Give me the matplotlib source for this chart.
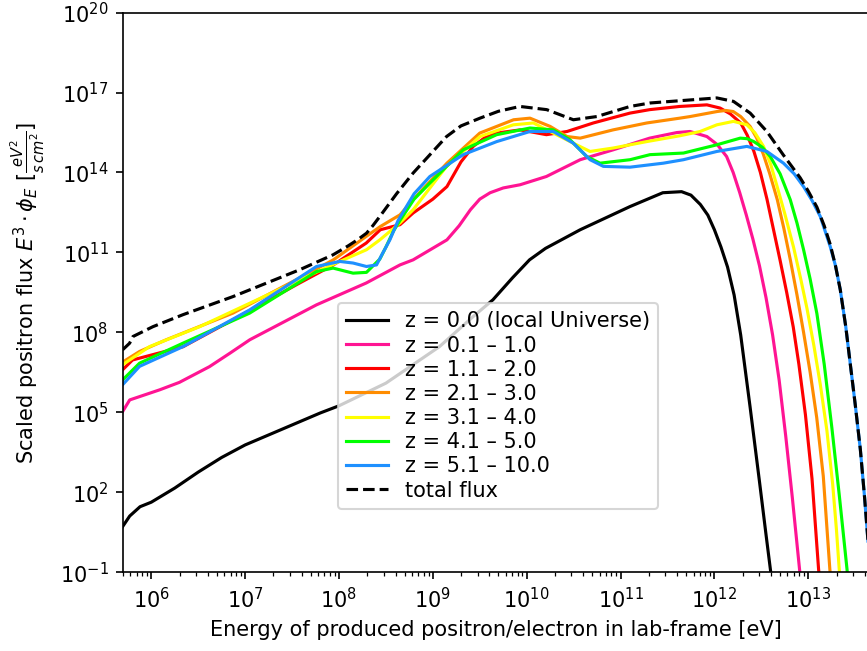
import numpy as np
import matplotlib
matplotlib.use("Agg")
import matplotlib.pyplot as plt
from matplotlib.ticker import NullLocator

# ---- data (log10 energy [eV], log10 scaled flux) ----
logE_z0 = [5.694, 5.77, 5.88, 6.0, 6.25, 6.5, 6.75, 7.0, 7.5, 7.8, 8.0, 8.5, 9.07, 9.43, 9.64,
           9.85, 10.03, 10.2, 10.57, 11.1, 11.45, 11.65, 11.75, 11.85, 11.93, 12.0, 12.07, 12.14,
           12.21, 12.28, 12.38, 12.48, 12.55, 12.60, 12.62]
logF_z0 = [0.70, 1.10, 1.45, 1.62, 2.15, 2.75, 3.30, 3.77, 4.52, 4.97, 5.24, 6.09, 7.46, 8.59, 9.22,
           10.05, 10.72, 11.15, 11.85, 12.72, 13.24, 13.28, 13.15, 12.8, 12.4, 11.85, 11.2, 10.45,
           9.4, 7.9, 5.2, 2.4, 0.4, -1.0, -1.6]

logE_z1 = [5.694, 5.77, 6.09, 6.30, 6.62, 6.84, 7.05, 7.76, 8.29, 8.65, 8.79, 9.15, 9.28, 9.40,
           9.50, 9.61, 9.75, 9.93, 10.21, 10.57, 10.92, 11.31, 11.6, 11.74, 11.92, 12.03, 12.13,
           12.20, 12.27, 12.34, 12.41, 12.48, 12.55, 12.62, 12.69, 12.76, 12.83, 12.91, 12.93]
logF_z1 = [5.02, 5.46, 5.84, 6.12, 6.71, 7.22, 7.72, 9.03, 9.85, 10.53, 10.72, 11.47, 12.0, 12.6,
           13.0, 13.24, 13.42, 13.54, 13.85, 14.48, 14.85, 15.29, 15.5, 15.54, 15.35, 15.05, 14.6,
           14.0, 13.24, 12.4, 11.5, 10.5, 9.3, 7.9, 6.2, 4.1, 1.8, -1.0, -1.7]

logE_z2 = [5.694, 5.80, 6.34, 6.87, 7.58, 7.94, 8.29, 8.44, 8.55, 8.65, 8.79, 9.0, 9.15, 9.3, 9.43,
           9.55, 9.68, 9.93, 10.21, 10.43, 10.71, 11.10, 11.31, 11.63, 11.92, 12.06, 12.17, 12.28,
           12.35, 12.42, 12.49, 12.56, 12.63, 12.70, 12.77, 12.84, 12.90, 12.97, 13.04, 13.11, 13.13]
logF_z2 = [6.59, 6.96, 7.46, 8.47, 9.85, 10.53, 11.35, 11.85, 11.95, 12.04, 12.48, 13.0, 13.47, 14.4,
           14.98, 15.3, 15.48, 15.6, 15.42, 15.54, 15.86, 16.23, 16.36, 16.48, 16.54, 16.42, 16.2,
           15.86, 15.4, 14.8, 14.0, 13.0, 11.85, 10.7, 9.5, 8.2, 6.8, 4.9, 2.5, -0.9, -1.6]

logE_z3 = [5.694, 5.875, 6.16, 6.87, 7.58, 7.94, 8.29, 8.44, 8.65, 8.79, 9.15, 9.50, 9.86, 10.035,
           10.25, 10.43, 10.57, 10.92, 11.28, 11.63, 11.74, 12.03, 12.12, 12.20, 12.28, 12.38, 12.45,
           12.52, 12.59, 12.67, 12.74, 12.81, 12.88, 12.95, 13.02, 13.09, 13.16, 13.23, 13.25]
logF_z3 = [6.88, 7.28, 7.72, 8.72, 10.04, 10.72, 11.6, 11.97, 12.41, 12.98, 14.35, 15.48, 15.98, 16.04,
           15.73, 15.35, 15.29, 15.6, 15.86, 16.04, 16.1, 16.29, 16.33, 16.29, 16.1, 15.73, 15.3,
           14.7, 13.95, 12.98, 11.9, 10.7, 9.4, 8.0, 6.5, 4.8, 2.6, -0.9, -1.6]

logE_z4 = [5.694, 5.98, 6.515, 7.048, 7.582, 8.009, 8.293, 8.435, 8.648, 8.79, 9.146, 9.502, 9.857,
           10.071, 10.283, 10.497, 10.675, 10.923, 11.279, 11.633, 11.848, 12.026, 12.203, 12.346,
           12.43, 12.523, 12.6, 12.666, 12.75, 12.843, 12.92, 12.986, 13.06, 13.13, 13.199, 13.26,
           13.30, 13.33, 13.35]
logF_z4 = [6.78, 7.46, 8.21, 9.09, 9.97, 10.66, 11.1, 11.47, 12.1, 12.6, 14.23, 15.35, 15.79, 15.86,
           15.48, 15.1, 14.79, 14.92, 15.16, 15.38, 15.54, 15.79, 15.92, 15.79,
           15.5, 14.98, 14.3, 13.5, 12.45, 11.2, 10.0, 8.9, 7.5, 6.0, 4.3, 2.3,
           0.6, -0.9, -1.6]

logE_z5 = [5.694, 5.875, 6.337, 7.048, 7.76, 7.937, 8.15, 8.293, 8.435, 8.50, 8.58, 8.65, 8.8,
           8.968, 9.323, 9.68, 10.035, 10.283, 10.461, 10.639, 10.781, 11.101, 11.314, 11.67, 12.026,
           12.275, 12.35, 12.42, 12.51, 12.595, 12.7, 12.808, 12.88, 12.95, 13.02, 13.092, 13.17,
           13.252, 13.33, 13.413, 13.43]
logF_z5 = [6.21, 6.84, 7.59, 8.72, 10.28, 10.41, 10.22, 10.25, 10.75, 11.2, 11.8, 12.2, 13.0,
           13.6, 14.85, 15.42, 15.67, 15.6, 15.23, 14.6, 14.35, 14.48, 14.67, 14.73, 15.04,
           15.29, 15.27, 15.16, 14.95, 14.6, 13.95, 12.98, 12.1, 11.1, 10.0, 8.7, 6.8,
           4.4, 1.9, -0.9, -1.6]

logE_z6 = [5.694, 5.875, 6.337, 7.048, 7.76, 8.009, 8.15, 8.293, 8.40, 8.47, 8.542, 8.63, 8.8,
           8.968, 9.323, 9.68, 10.035, 10.283, 10.497, 10.675, 10.817, 11.101, 11.456, 11.67, 12.026,
           12.346, 12.559, 12.736, 12.85, 12.95, 13.04, 13.128, 13.234, 13.29, 13.341, 13.40, 13.448,
           13.50, 13.555, 13.60, 13.64, 13.67]
logF_z6 = [6.03, 6.72, 7.46, 8.84, 10.47, 10.66, 10.6, 10.47, 10.53, 11.0, 11.47, 12.2, 13.2,
           13.85, 14.67, 15.16, 15.54, 15.54, 15.1, 14.48, 14.23, 14.2, 14.35, 14.48, 14.79,
           14.98, 14.79, 14.35, 13.95, 13.47, 12.95, 12.35, 11.22, 10.5, 9.6, 8.2, 6.8,
           5.3, 3.6, 1.8, 0.0, -1.2]

logE_tot = [5.694, 5.769, 5.804, 6.017, 6.337, 6.87, 7.582, 7.937, 8.1, 8.2, 8.293, 8.36, 8.435,
            8.613, 8.79, 9.146, 9.3, 9.502, 9.7, 9.928, 10.213, 10.497, 10.746, 11.101, 11.314,
            11.65, 12.026, 12.203, 12.381, 12.559, 12.736, 12.82, 12.914, 13.0, 13.092, 13.17,
            13.234, 13.29, 13.341, 13.40, 13.448, 13.50, 13.555, 13.60, 13.64, 13.67]
logF_tot = [7.34, 7.59, 7.84, 8.21, 8.66, 9.34, 10.35, 10.91, 11.25, 11.48, 11.72, 12.0, 12.35,
            13.2, 13.98, 15.35, 15.75, 16.04, 16.3, 16.48, 16.36, 15.98, 16.1, 16.48, 16.61,
            16.7, 16.8, 16.67, 16.23, 15.54, 14.65, 14.25, 13.8, 13.3, 12.7, 12.0,
            11.3, 10.5, 9.6, 8.2, 6.8, 5.3, 3.6, 1.8, 0.0, -1.2]

labels = ["z = 0.0 (local Universe)", "z = 0.1 \u2013 1.0", "z = 1.1 \u2013 2.0", "z = 2.1 \u2013 3.0",
          "z = 3.1 \u2013 4.0", "z = 4.1 \u2013 5.0", "z = 5.1 \u2013 10.0"]
colors = ["black", "#ff1493", "#ff0000", "#ff8c00", "#ffff00", "#00ff00", "#1e90ff"]

series = [(logE_z0, logF_z0), (logE_z1, logF_z1), (logE_z2, logF_z2), (logE_z3, logF_z3),
          (logE_z4, logF_z4), (logE_z5, logF_z5), (logE_z6, logF_z6)]

dpi = 150
fig = plt.figure(figsize=(867.3 / dpi, 651.3 / dpi), dpi=dpi)
ax = fig.add_axes([123 / 867, 79 / 651, (868 - 123) / 867, 559 / 651])

for (le, lf), lab, c in zip(series, labels, colors):
    ax.plot(10 ** np.array(le), 10 ** np.array(lf), color=c, label=lab)
ax.plot(10 ** np.array(logE_tot), 10 ** np.array(logF_tot), color="black", ls="--", label="total flux")

ax.set_xscale("log")
ax.set_yscale("log")
ax.set_xlim(5e5, 10 ** (6 + (868 - 151.7) / 93.76))
ax.set_ylim(1e-1, 1e20)
ax.set_yticks([10.0 ** k for k in range(-1, 21, 3)])
ax.yaxis.set_minor_locator(NullLocator())

ax.set_xlabel("Energy of produced positron/electron in lab-frame [eV]")
ax.set_ylabel(r"Scaled positron flux $E^3 \cdot \phi_E$ $[\frac{eV^2}{s\,cm^2}]$", labelpad=6)

ax.legend(loc="upper left", bbox_to_anchor=((338 - 123) / 745, (572 - 303) / 559),
          borderaxespad=0, labelspacing=0.2)

fig.savefig("out.png", dpi=dpi)
